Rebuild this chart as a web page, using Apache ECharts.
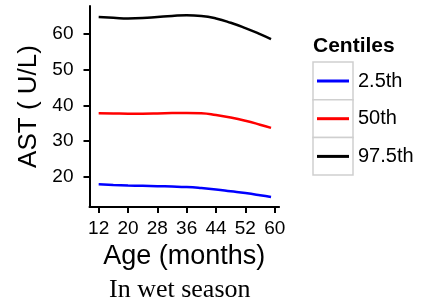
<!DOCTYPE html>
<html>
<head>
<meta charset="utf-8">
<script src="https://cdn.jsdelivr.net/npm/echarts@6/dist/echarts.min.js"></script>
<style>
  html, body { margin: 0; padding: 0; background: #fff; }
  #chart { width: 421px; height: 304px; }
</style>
</head>
<body>
<div id="chart"></div>
<script>
// age in months
const ages = [12, 16, 20, 24, 28, 32, 36, 40, 44, 48, 52, 56, 59]
const xTicks = [12, 20, 28, 36, 44, 52, 60]
const yTicks = [20, 30, 40, 50, 60]

// centile curves
const p025 = [17.9, 17.7, 17.55, 17.45, 17.35, 17.25, 17.1, 16.8, 16.4, 15.9, 15.4, 14.8, 14.3]
const p50 = [37.8, 37.75, 37.7, 37.7, 37.75, 37.85, 37.9, 37.8, 37.3, 36.6, 35.7, 34.6, 33.7]
const p975 = [64.8, 64.6, 64.4, 64.5, 64.8, 65.1, 65.3, 65.1, 64.4, 63.2, 61.7, 60.0, 58.6]

const names = ['2.5th', '50th', '97.5th']
const colors = ['#0000ff', '#ff0000', '#000000']

const pairs = arr => ages.map((a, i) => [a, arr[i]])

const chart = echarts.init(document.getElementById('chart'))
const sans = 'Liberation Sans, Arial, sans-serif'

// grey key boxes behind the legend lines
const boxes = names.map((n, i) => ({
  type: 'rect',
  shape: { x: 313, y: 62 + i * 37.7, width: 40, height: 37.7 },
  style: { fill: '#fff', stroke: '#cfcfcf', lineWidth: 1.5 },
  z: 0
}))

chart.setOption({
  animation: false,
  textStyle: { fontFamily: sans },
  title: [
    {
      text: 'In wet season',
      left: 109, top: 277, padding: 0,
      textStyle: { fontFamily: 'Liberation Serif, Times New Roman, serif', fontWeight: 'normal', fontSize: 26, color: '#000' }
    },
    {
      text: 'Centiles',
      left: 313, top: 36, padding: 0,
      textStyle: { fontFamily: sans, fontWeight: 'bold', fontSize: 21, color: '#000' }
    }
  ],
  graphic: boxes,
  legend: {
    orient: 'vertical',
    left: 317, top: 71, padding: 0,
    itemWidth: 32, itemHeight: 3, itemGap: 17.7,
    icon: 'rect',
    data: names,
    textStyle: { fontSize: 20, color: '#000', lineHeight: 20, padding: [0, 0, 0, 4] },
    z: 5
  },
  grid: { left: 89.5, right: 141.9, top: 6, bottom: 97 },
  xAxis: {
    type: 'value',
    min: 9.5, max: 61.2,
    name: 'Age (months)',
    nameLocation: 'middle',
    nameGap: 33,
    nameTextStyle: { fontSize: 27, color: '#000' },
    axisLine: { show: true, lineStyle: { color: '#000', width: 2 } },
    axisTick: { show: true, length: 6, lineStyle: { color: '#000', width: 2 }, customValues: xTicks },
    axisLabel: { fontSize: 19, color: '#000', margin: 12, customValues: xTicks },
    splitLine: { show: false }
  },
  yAxis: {
    type: 'value',
    min: 11.5, max: 67.9,
    name: 'AST ( U/L)',
    nameLocation: 'middle',
    nameGap: 48,
    nameTextStyle: { fontSize: 26, color: '#000' },
    axisLine: { show: true, lineStyle: { color: '#000', width: 2 } },
    axisTick: { show: true, length: 6, lineStyle: { color: '#000', width: 2 }, customValues: yTicks },
    axisLabel: { fontSize: 19, color: '#000', margin: 16, customValues: yTicks },
    splitLine: { show: false }
  },
  series: [p025, p50, p975].map((arr, i) => ({
    name: names[i],
    type: 'line',
    data: pairs(arr),
    smooth: true,
    showSymbol: false,
    color: colors[i],
    lineStyle: { width: 2.5, color: colors[i] }
  }))
})
</script>
</body>
</html>
